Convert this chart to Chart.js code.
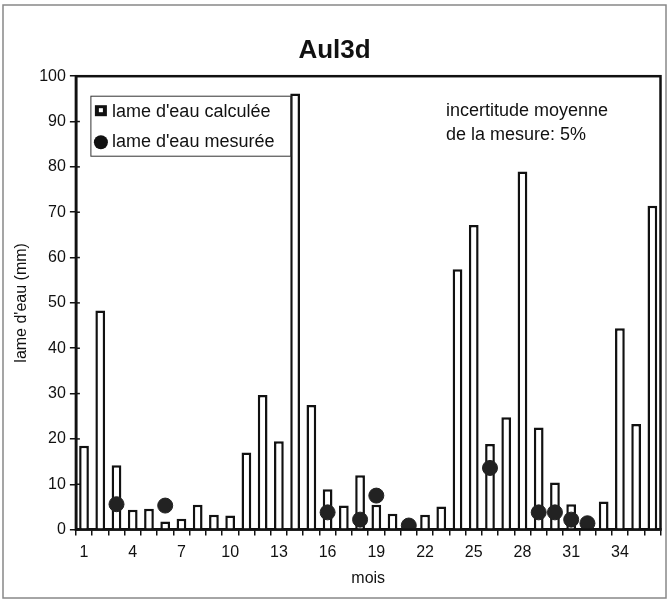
<!DOCTYPE html>
<html>
<head>
<meta charset="utf-8">
<script src="https://cdn.jsdelivr.net/npm/chart.js@4"></script>
<style>
  html, body { margin: 0; padding: 0; background: #fff; }
  #wrap { width: 669px; height: 604px; position: relative; }
</style>
</head>
<body>
<div id="wrap"><canvas id="barChart" width="669" height="604"></canvas></div>
<script>
const mois = [];
for (let m = 1; m <= 36; m++) mois.push(String(m));

const lameCalculee = [18.5, 48.3, 14.2, 4.4, 4.6, 1.8, 2.4, 5.5, 3.3, 3.1,
    17, 29.7, 19.5, 96.2, 27.5, 8.9, 5.3, 12, 5.5, 3.5,
    0.5, 3.3, 5.1, 57.4, 67.2, 18.9, 24.8, 79, 22.5, 10.4,
    5.6, 1, 6.2, 44.4, 23.3, 71.4];

const lameMesuree = [null, null, 5.6, null, null, 5.3, null, null, null, null,
    null, null, null, null, null, 3.8, null, 2.2, 7.5, null,
    0.9, null, null, null, null, 13.6, null, null, 3.8, 3.8,
    2.2, 1.4, null, null, null, null];

const yTicks = [0, 10, 20, 30, 40, 50, 60, 70, 80, 90, 100];

const FONT = "'Liberation Sans', Arial, sans-serif";

const decorPlugin = {
    id: 'decor',
    afterDraw(chart) {
        const c = chart.ctx;
        const a = chart.chartArea;
        const y = chart.scales.y;
        c.save();
        // outer frame
        c.strokeStyle = '#888';
        c.lineWidth = 1.5;
        c.strokeRect(3, 5, 663, 593);
        // plot frame
        c.strokeStyle = '#111';
        c.lineWidth = 2.5;
        c.strokeRect(a.left, a.top, a.right - a.left, a.bottom - a.top);
        // small inner part of the y ticks
        c.lineWidth = 1.5;
        yTicks.forEach(v => {
            const py = y.getPixelForValue(v);
            c.beginPath();
            c.moveTo(a.left, py);
            c.lineTo(a.left + 4, py);
            c.stroke();
        });

        // legend box
        const lx = a.left + 15, ly = a.top + 20;
        c.lineWidth = 1;
        c.strokeStyle = '#333';
        c.strokeRect(lx, ly, 200, 60);
        c.font = '18px ' + FONT;
        c.fillStyle = '#111';
        c.textBaseline = 'middle';
        // square icon
        c.fillRect(lx + 4, ly + 9, 12, 11);
        c.fillStyle = '#fff';
        c.fillRect(lx + 8, ly + 12, 4, 4);
        c.fillStyle = '#111';
        c.fillText("lame d'eau calculée", lx + 21, ly + 16);
        c.beginPath();
        c.arc(lx + 10, ly + 46, 7, 0, Math.PI * 2);
        c.fill();
        c.fillText("lame d'eau mesurée", lx + 21, ly + 46);

        // annotation
        c.textBaseline = 'alphabetic';
        c.fillText('incertitude moyenne', 446, 116);
        c.fillText('de la mesure: 5%', 446, 140);
        c.restore();
    }
};

const ctx = document.getElementById('barChart').getContext('2d');
const chart = new Chart(ctx, {
    type: 'bar',
    data: {
        labels: mois,
        datasets: [{
            type: 'line',
            label: "lame d'eau mesurée",
            data: lameMesuree,
            showLine: false,
            pointRadius: 7.5,
            pointBackgroundColor: '#222',
            pointBorderColor: '#222',
            order: 0
        }, {
            label: "lame d'eau calculée",
            data: lameCalculee,
            backgroundColor: '#fff',
            borderColor: '#111',
            borderWidth: 2.5,
            barPercentage: 0.6,
            categoryPercentage: 1,
            order: 1
        }]
    },
    options: {
        responsive: false,
        animation: false,
        layout: { padding: { left: 8, right: 8, top: 35, bottom: 12 } },
        plugins: {
            legend: { display: false },
            tooltip: { enabled: false },
            title: {
                display: true,
                text: 'Aul3d',
                color: '#111',
                font: { family: FONT, size: 26, weight: 'bold' },
                padding: { top: 0, bottom: 10 }
            }
        },
        scales: {
            x: {
                grid: { display: true, drawOnChartArea: false, tickLength: 6, color: '#111', lineWidth: 1.5 },
                border: { color: '#111', width: 2.5 },
                ticks: {
                    autoSkip: false,
                    maxRotation: 0,
                    color: '#111',
                    font: { family: FONT, size: 16 },
                    padding: 7,
                    callback: function (v, i) { return i % 3 === 0 ? mois[i] : ''; }
                },
                title: {
                    display: true, text: 'mois', color: '#111',
                    font: { family: FONT, size: 16 }, padding: { top: 0 }
                }
            },
            y: {
                min: 0,
                max: 100,
                afterBuildTicks: function (axis) { axis.ticks = yTicks.map(v => ({ value: v })); },
                grid: { display: true, drawOnChartArea: false, tickLength: 6, color: '#111', lineWidth: 1.5 },
                border: { color: '#111', width: 2.5 },
                ticks: {
                    color: '#111',
                    font: { family: FONT, size: 16 },
                    padding: 4
                },
                title: {
                    display: true, text: "lame d'eau (mm)", color: '#111',
                    font: { family: FONT, size: 16 }, padding: { bottom: 4 }
                }
            }
        }
    },
    plugins: [decorPlugin]
});
</script>
</body>
</html>
